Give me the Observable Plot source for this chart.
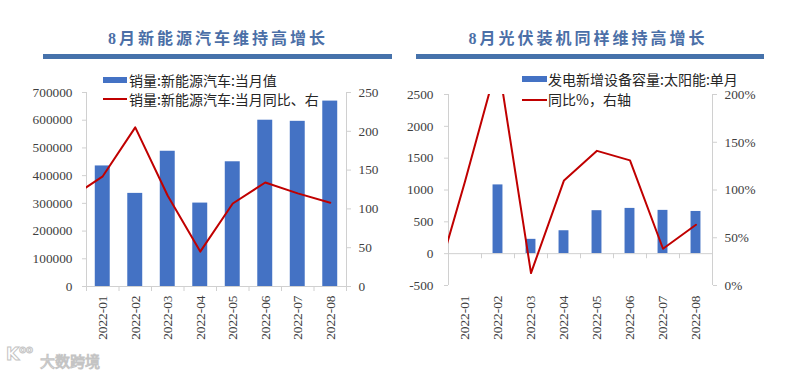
<!DOCTYPE html>
<html>
<head>
<meta charset="utf-8">
<script src="https://cdn.jsdelivr.net/npm/d3@7"></script>
<script src="https://cdn.jsdelivr.net/npm/@observablehq/plot@0.6"></script>
<style>
  html, body { margin: 0; padding: 0; background: #fff; }
  #root { position: relative; width: 788px; height: 375px; overflow: hidden; font-family: "Liberation Serif", "Noto Sans CJK SC", serif; }
  .title { position: absolute; top: 25px; font-size: 16px; font-weight: bold; color: #4b6fa7; letter-spacing: 3px; white-space: nowrap; transform: translateX(-50%); font-family: "Liberation Serif", "Noto Sans CJK SC", serif; }
  .underline { position: absolute; top: 54px; height: 5px; background: #4672ab; }
  .chart { position: absolute; top: 0; }
  .lg { position: absolute; font-size: 14px; color: #262626; white-space: nowrap; line-height: 1; transform: translateY(-50%); font-family: "Noto Sans CJK SC", sans-serif; }
  .sw { position: absolute; }
  .wm { position: absolute; font-family: "Noto Sans CJK SC", sans-serif; color: #fff; -webkit-text-stroke: 1px #c4c4c4; white-space: nowrap; }
</style>
</head>
<body>
<div id="root">
  <div class="title" style="left:218px">8月新能源汽车维持高增长</div>
  <div class="underline" style="left:43px;width:349px"></div>
  <div class="title" style="left:588px">8月光伏装机同样维持高增长</div>
  <div class="underline" style="left:416px;width:348px"></div>
  <div id="left" class="chart" style="left:0px"></div>
  <div id="right" class="chart" style="left:394px"></div>

  <div class="sw" style="left:103px;top:77px;width:24px;height:6px;background:#4472c4"></div>
  <div class="lg" style="left:129px;top:80px">销量:新能源汽车:当月值</div>
  <div class="sw" style="left:103px;top:98px;width:24px;height:2px;background:#c00000"></div>
  <div class="lg" style="left:129px;top:99px">销量:新能源汽车:当月同比、右</div>

  <div class="sw" style="left:522px;top:76px;width:25px;height:6px;background:#4472c4"></div>
  <div class="lg" style="left:548px;top:79px">发电新增设备容量:太阳能:单月</div>
  <div class="sw" style="left:522px;top:99px;width:25px;height:2px;background:#c00000"></div>
  <div class="lg" style="left:548px;top:99px">同比%，右轴</div>

  <div class="wm" style="left:6px;top:344px;font-size:17px;font-family:'DejaVu Sans',sans-serif;font-weight:bold">K<span style="font-size:10px;vertical-align:top">oo</span></div>
  <div class="wm" style="left:40px;top:350px;font-size:15px">大数跨境</div>
</div>
<script>
// ---- Data ----
const months = ["2022-01", "2022-02", "2022-03", "2022-04", "2022-05", "2022-06", "2022-07", "2022-08"];
// Left: NEV monthly sales (vehicles)
const nevSales = [435000, 336000, 488000, 301000, 450000, 600000, 596000, 669000];
// Left: NEV YoY (%), preceded by 2021-12 value (clipped at the left edge)
const nevYoYPrevMonth = 114;
const nevYoY = [142, 205, 117, 45, 107, 134, 120, 108];
const leftTicks = [0, 100000, 200000, 300000, 400000, 500000, 600000, 700000];
const leftRightTicks = [0, 50, 100, 150, 200, 250];

// Right: new solar capacity monthly (10k kW)
const solarAdd = [null, 1080, 225, 360, 675, 711, 680, 663];
// Right: YoY (%), preceded by 2021-12 value (clipped at the left edge)
const solarYoYPrevMonth = -11;
const solarYoY = [109, 235, 13, 110, 141, 131, 38.5, 63.6];
const rightTicks = [-500, 0, 500, 1000, 1500, 2000, 2500];
const rightRightTicks = [0, 50, 100, 150, 200];

// ---- Styles ----
const BLUE = "#4472c4";
const RED = "#c00000";
const AXIS = "#d0d0d0";
const TEXT = "#404040";
const idx = d3.range(months.length);
const bounds = d3.range(-0.5, months.length, 1);

// ---- Left chart ----
{
  const k = 700000 / 250;
  const bars = idx.map(i => ({i, v: nevSales[i]}));
  const line = [{i: -1, v: nevYoYPrevMonth}, ...idx.map(i => ({i, v: nevYoY[i]}))];
  const chart = Plot.plot({
    width: 394, height: 375,
    marginLeft: 86, marginRight: 48, marginTop: 92, marginBottom: 89,
    x: {type: "linear", domain: [-0.5, 7.5], label: null},
    y: {domain: [0, 700000], label: null},
    style: {fontFamily: "'Liberation Serif', serif", fontSize: "13.3px", color: TEXT, background: "transparent"},
    marks: [
      Plot.rectY(bars, {x1: d => d.i - 0.23, x2: d => d.i + 0.23, y: "v", fill: BLUE}),
      Plot.ruleX([-0.5, 7.5], {stroke: AXIS}),
      Plot.ruleY([0], {stroke: AXIS}),
      Plot.line(line, {x: "i", y: d => d.v * k, stroke: RED, strokeWidth: 2, clip: true}),
      Plot.axisY({ticks: leftTicks, tickFormat: d => String(d), tickSize: 4, tickPadding: 10, stroke: AXIS, fill: TEXT, label: null}),
      Plot.axisY({anchor: "right", ticks: leftRightTicks.map(v => v * k), tickFormat: d => String(Math.round(d / k)), tickSize: 4, tickPadding: 8, stroke: AXIS, fill: TEXT, label: null}),
      Plot.axisX({ticks: idx, tickFormat: i => months[i], tickRotate: -90, tickSize: 0, tickPadding: 9, fill: TEXT, label: null}),
      Plot.axisX({ticks: bounds, tickFormat: () => "", tickSize: 5, stroke: AXIS, label: null})
    ]
  });
  document.getElementById("left").appendChild(chart);
}

// ---- Right chart ----
{
  const toBar = p => -500 + p * 15;
  const bars = idx.filter(i => solarAdd[i] != null).map(i => ({i, v: solarAdd[i]}));
  const line = [{i: -1, v: solarYoYPrevMonth}, ...idx.map(i => ({i, v: solarYoY[i]}))];
  const chart = Plot.plot({
    width: 394, height: 375,
    marginLeft: 54, marginRight: 76, marginTop: 94, marginBottom: 90,
    x: {type: "linear", domain: [-0.5, 7.5], label: null},
    y: {domain: [-500, 2500], label: null},
    style: {fontFamily: "'Liberation Serif', serif", fontSize: "13.3px", color: TEXT, background: "transparent"},
    marks: [
      Plot.rectY(bars, {x1: d => d.i - 0.15, x2: d => d.i + 0.15, y1: 0, y2: "v", fill: BLUE}),
      Plot.ruleX([-0.5, 7.5], {stroke: AXIS}),
      Plot.ruleY([0], {stroke: AXIS}),
      Plot.ruleX(bounds, {y1: 0, y2: -80, stroke: AXIS}),
      Plot.line(line, {x: "i", y: d => toBar(d.v), stroke: RED, strokeWidth: 2, clip: true}),
      Plot.axisY({ticks: rightTicks, tickFormat: d => String(d), tickSize: 4, tickPadding: 11, stroke: AXIS, fill: TEXT, label: null}),
      Plot.axisY({anchor: "right", ticks: rightRightTicks.map(toBar), tickFormat: d => Math.round((d + 500) / 15) + "%", tickSize: 4, tickPadding: 8, stroke: AXIS, fill: TEXT, label: null}),
      Plot.axisX({ticks: idx, tickFormat: i => months[i], tickRotate: -90, tickSize: 0, tickPadding: 10, fill: TEXT, label: null})
    ]
  });
  document.getElementById("right").appendChild(chart);
}
</script>
</body>
</html>
